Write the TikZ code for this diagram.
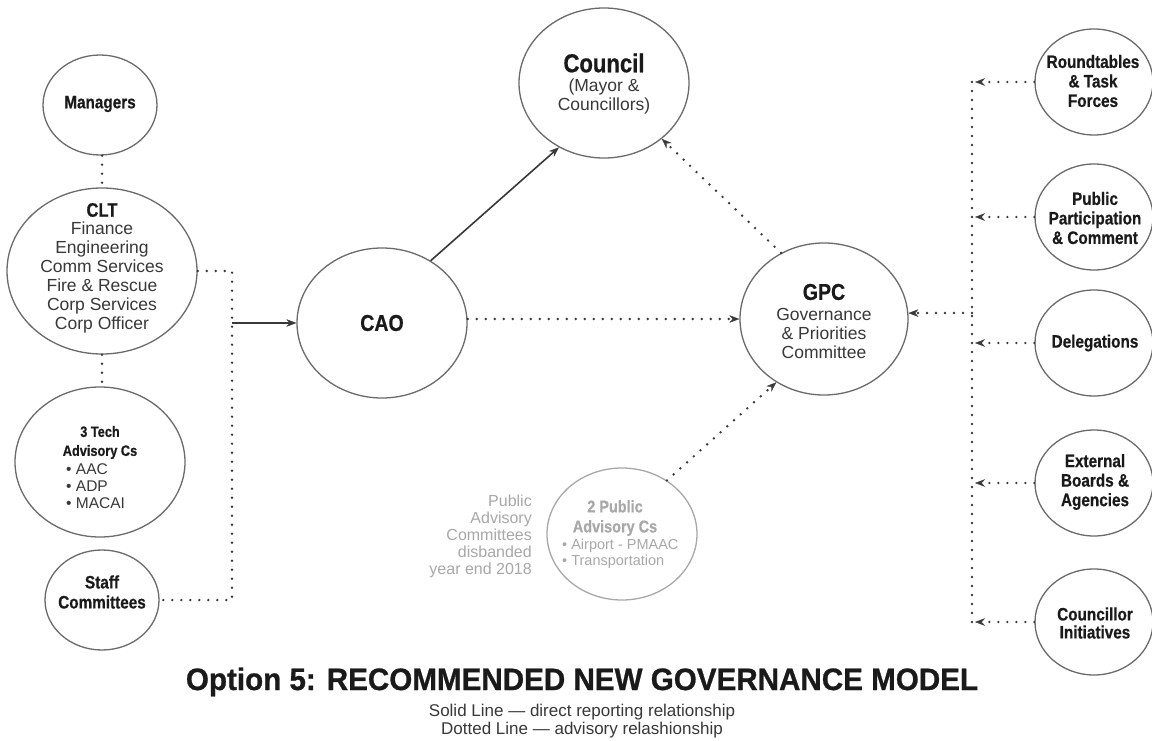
\documentclass[tikz,border=0pt]{standalone}
\usepackage{fontspec}
\setmainfont{Liberation Sans}
\newfontfamily\bcf{Liberation Sans}[FakeStretch=0.85,FakeBold=0.6]
\newfontfamily\titlef{Liberation Sans}[FakeStretch=0.955,FakeBold=0.8]
\usetikzlibrary{shapes.geometric,arrows.meta}
\definecolor{circ}{HTML}{6A6A6A}
\definecolor{ink}{HTML}{1A1A1A}
\definecolor{ink2}{HTML}{383838}
\definecolor{dotc}{HTML}{3A3A3A}
\definecolor{faded}{HTML}{A8A8A8}
\newcommand\BFsz[2]{\bcf\bfseries\fontsize{#1}{#2}\selectfont}
\newcommand\RGsz[2]{\fontsize{#1}{#2}\selectfont}
\begin{document}
\begin{tikzpicture}[x=1pt,y=-1pt,
 bub/.style={ellipse,draw=circ,line width=1.3pt,inner sep=0pt},
 smallbub/.style={bub,minimum width=118pt,minimum height=106pt},
 bigbub/.style={bub,minimum width=170pt,minimum height=150pt},
 bl/.style={inner sep=0pt,align=center,text=ink,font=\BFsz{18}{19.5}},
 rg/.style={inner sep=0pt,align=center,text=ink2,font=\RGsz{17.5}{19}},
 dots/.style={draw=dotc,line width=2.7pt,line cap=round,dash pattern=on 0pt off 9pt},
 tip/.style={-{Stealth[length=10pt,width=7.5pt,line width=0.4pt]}},
 solidarr/.style={draw=ink2,line width=1.6pt,-{Stealth[length=10pt,width=7.5pt,line width=0.4pt]}}
]
\fill[white] (0,0) rectangle (1152,741);
\useasboundingbox (0,0) rectangle (1152,741);

% ---- left column
\node[bub,minimum width=114pt,minimum height=100pt] (mgr) at (100,105) {};
\node[bl] (mgrT) at (100,104) {Managers};
\node[bub,minimum width=190pt,minimum height=166pt] (clt) at (102,271) {};
\node[bl,font=\BFsz{19.5}{20}] (cltH) at (102,210) {CLT};
\node[rg] (cltT) at (102,277) {Finance\\Engineering\\Comm Services\\Fire \& Rescue\\Corp Services\\Corp Officer};
\node[bigbub] (tech) at (100,462) {};
\node[bl,font=\BFsz{15}{19}] (techH) at (100,442.5) {3 Tech\\Advisory Cs};
\node[rg,align=left,anchor=west,font=\RGsz{15.5}{17}] (techT) at (66,486) {• AAC\\• ADP\\• MACAI};
\node[bub,minimum width=114pt,minimum height=100pt] (staff) at (102,600) {};
\node[bl,font=\BFsz{18}{20}] (staffT) at (102,592) {Staff\\Committees};

% ---- centre
\node[bigbub] (cao) at (382,323) {};
\node[bl,font=\BFsz{23}{24}] (caoT) at (382,323) {CAO};
\node[bigbub] (council) at (604,83) {};
\node[bl,font=\BFsz{26}{27}] (councilH) at (604,63) {Council};
\node[rg] (councilT) at (604,96.5) {(Mayor \&\\Councillors)};
\node[bub,minimum width=168pt,minimum height=152pt] (gpc) at (824,319) {};
\node[bl,font=\BFsz{23}{24}] (gpcH) at (824,292) {GPC};
\node[rg] (gpcT) at (824,333) {Governance\\\& Priorities\\Committee};

\node[bub,draw=faded,minimum width=150pt,minimum height=132pt] (pac) at (622,534) {};
\node[bl,text=faded,font=\BFsz{17}{20}] (pacH) at (615,518) {2 Public\\Advisory Cs};
\node[rg,text=faded,align=left,anchor=west,font=\RGsz{14.5}{15.5}] (pacT) at (562,553.5) {• Airport - PMAAC\\• Transportation};
\node[rg,text=faded,align=right,anchor=east,font=\RGsz{16}{17}] (note) at (532,536) {Public\\Advisory\\Committees\\disbanded\\year end 2018};

% ---- right column
\node[smallbub] (r1) at (1094,82) {};
\node[bl] (r1T) at (1093,81) {Roundtables\\\& Task\\Forces};
\node[smallbub] (r2) at (1094,217) {};
\node[bl] (r2T) at (1095,218) {Public\\Participation\\\& Comment};
\node[smallbub] (r3) at (1094,343) {};
\node[bl] (r3T) at (1095,343) {Delegations};
\node[smallbub] (r4) at (1094,483) {};
\node[bl] (r4T) at (1095,482) {External\\Boards \&\\Agencies};
\node[smallbub] (r5) at (1094,622) {};
\node[bl,font=\BFsz{18}{18}] (r5T) at (1095,623) {Councillor\\Initiatives};

% ---- title
\node[inner sep=0pt,text=ink,font=\titlef\bfseries\fontsize{31}{32}\selectfont] (title) at (582,682) {Option 5: RECOMMENDED NEW GOVERNANCE MODEL};
\node[rg,font=\RGsz{17}{18.5}] (legend) at (582,721) {Solid Line — direct reporting relationship\\Dotted Line — advisory relashionship};

% ---- connectors
\draw[dots] (clt.north |- mgr.south) -- (clt.north);
\draw[dots] (clt.south) -- (clt.south |- tech.north);
\coordinate (jT) at (232,271);
\coordinate (jB) at (232,600);
\coordinate (jA) at (232,323);
\draw[dots] (clt.east) -- (jT) -- (jB) -- (staff.east);
\draw[solidarr] (jA) -- (cao.west);
\draw[solidarr] (cao.52) -- (council.235);
\draw[dots,tip] (cao.east |- gpc.west) -- (gpc.west);
\draw[dots,tip] (gpc.123) -- (council.316);
\draw[dots,tip] (pac.50) -- (gpc.233);

\coordinate (vT) at (972,82);
\coordinate (vB) at (972,622);
\coordinate (vx) at (975,0);
\coordinate (vG) at (972,313);
\draw[dots] (vT) -- (vB);
\foreach \n in {r1,r2,r3,r4,r5} \draw[dots,tip] (\n.west) -- (\n.west -| vx);
\draw[dots,tip] (vG) -- (gpc.4);
\end{tikzpicture}
\end{document}
